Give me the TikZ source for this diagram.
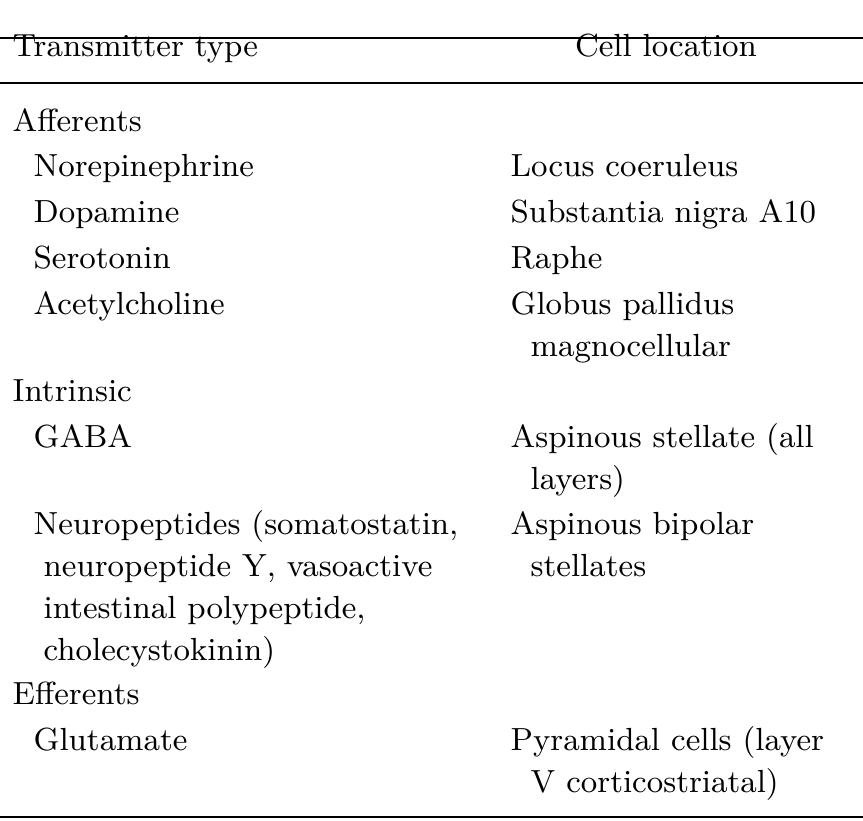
\documentclass[tikz,border=0pt]{standalone}
\usetikzlibrary{positioning}
\begin{document}
\begin{tikzpicture}[x=0.01cm,y=-0.01cm,
        entry/.style={% For the table texts
            anchor=base west,
            inner sep=0pt,
            font=\fontsize{9.1}{11}\selectfont,
            },
        rule/.style={% For the horizontal rules
            line width=0.6pt,
            },
            ]
         \useasboundingbox (0,0) rectangle (863,820);
         % rules
         \coordinate (top l) at (0,38);  \coordinate (top r) at (863,38);
         \coordinate (mid l) at (0,83);  \coordinate (mid r) at (863,83);
         \coordinate (bot l) at (0,817); \coordinate (bot r) at (863,817);
         \draw[rule] (top l) -- (top r);
         \draw[rule] (mid l) -- (mid r);
         \draw[rule] (bot l) -- (bot r);
         % header
         \node[entry] (htype) at (12,56) {Transmitter type};
         \node[entry,anchor=base] (hloc) at (666,56) {Cell location};
         % afferents
         \node[entry] (aff) at (12,131) {Afferents};
         \node[entry] (ne) at (33,176) {Norepinephrine};
         \node[entry] (da) at (33,222) {Dopamine};
         \node[entry] (ser) at (33,268) {Serotonin};
         \node[entry] (ach) at (33,314) {Acetylcholine};
         \node[entry] (lc) at (510,176) {Locus coeruleus};
         \node[entry] (sn) at (510,222) {Substantia nigra A10};
         \node[entry] (rap) at (510,268) {Raphe};
         \node[entry] (gp) at (510,314) {Globus pallidus};
         \node[entry] (gp2) at (530,356) {magnocellular};
         % intrinsic
         \node[entry] (intr) at (12,401) {Intrinsic};
         \node[entry] (gaba) at (33,447) {GABA};
         \node[entry] (ast) at (510,447) {Aspinous stellate (all};
         \node[entry] (ast2) at (530,489) {layers)};
         \node[entry] (np) at (33,534) {Neuropeptides (somatostatin,};
         \node[entry] (np2) at (43,576) {neuropeptide Y, vasoactive};
         \node[entry] (np3) at (43,618) {intestinal polypeptide,};
         \node[entry] (np4) at (43,660) {cholecystokinin)};
         \node[entry] (abs) at (510,534) {Aspinous bipolar};
         \node[entry] (abs2) at (530,576) {stellates};
         % efferents
         \node[entry] (eff) at (12,704) {Efferents};
         \node[entry] (glu) at (33,750) {Glutamate};
         \node[entry] (pyr) at (510,750) {Pyramidal cells (layer};
         \node[entry] (pyr2) at (530,792) {V corticostriatal)};
\end{tikzpicture}
\end{document}
